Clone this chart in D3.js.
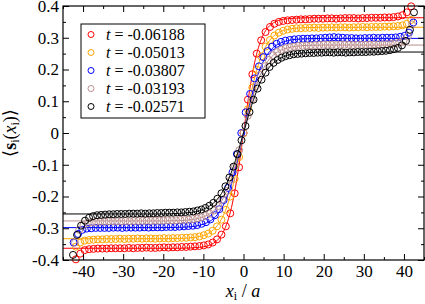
<!DOCTYPE html>
<html>
<head>
<meta charset="utf-8">
<script src="https://cdn.jsdelivr.net/npm/d3@7"></script>
<style>
  body { margin: 0; background: #fff; }
  svg text { font-family: "Liberation Serif", "Times New Roman", Tinos, "DejaVu Serif", serif; }
</style>
</head>
<body>
<script>
const width  = 425;
const height = 304;
const margin = {top: 6, right: 1, bottom: 44, left: 63};

// series labels and colours
const tLabels = ['-0.06188', '-0.05013', '-0.03807', '-0.03193', '-0.02571'];
const colors  = ['#ff0000', '#ffa500', '#0000ff', '#bc8f8f', '#000000'];

// lattice spacing of the sites for each series (x_i / a), centred on 0
const siteStep = [1.1, 1.1, 1.1, 1.05, 1.0];

// measured <s_i(x_i)>, left to right
const redY = [-.398, -.380, -.369, -.366, -.365, -.364, -.364, -.364, -.363, -.363,
  -.363, -.363, -.362, -.363, -.362, -.362, -.361, -.362, -.362, -.361,
  -.360, -.361, -.360, -.360, -.359, -.359, -.358, -.357, -.356, -.354,
  -.351, -.345, -.335, -.320, -.294, -.253, -.190, -.108, 0,
  .105, .185, .250, .292, .318, .334, .344, .350, .353, .355,
  .356, .357, .358, .358, .359, .360, .360, .360, .361, .361,
  .360, .361, .362, .362, .362, .361, .362, .362, .363, .363,
  .363, .364, .364, .365, .367, .371, .380, .399];

const orangeY = [-.358, -.345, -.339, -.337, -.336, -.335, -.335, -.334, -.334, -.334,
  -.333, -.334, -.333, -.333, -.332, -.333, -.332, -.332, -.333, -.332,
  -.331, -.332, -.331, -.331, -.330, -.330, -.329, -.328, -.326, -.322,
  -.317, -.308, -.294, -.273, -.242, -.200, -.144, -.076, 0,
  .075, .143, .199, .241, .272, .293, .307, .316, .322, .326,
  .328, .330, .330, .331, .331, .332, .331, .332, .332, .333,
  .332, .333, .333, .332, .333, .333, .334, .333, .334, .334,
  .334, .335, .335, .336, .337, .339, .344, .356];

const blueY = [-.345, -.318, -.305, -.301, -.300, -.299, -.299, -.299, -.299, -.298,
  -.298, -.299, -.298, -.298, -.298, -.298, -.297, -.298, -.297, -.297,
  -.297, -.296, -.296, -.296, -.295, -.294, -.293, -.292, -.290, -.286,
  -.281, -.272, -.259, -.240, -.211, -.173, -.124, -.066, 0,
  .065, .123, .172, .210, .239, .258, .272, .281, .287, .291,
  .293, .295, .296, .297, .297, .298, .298, .299, .300, .301,
  .302, .301, .300, .299, .299, .298, .298, .299, .299, .300,
  .299, .300, .300, .300, .301, .303, .306, .316, .348];

const rosyY = [-.345, -.305, -.290, -.284, -.281, -.280, -.279, -.279, -.278, -.278,
  -.278, -.278, -.277, -.278, -.277, -.277, -.277, -.276, -.277, -.276,
  -.276, -.276, -.275, -.275, -.275, -.274, -.274, -.273, -.271, -.269,
  -.266, -.261, -.254, -.244, -.230, -.210, -.183, -.148, -.105, -.054, 0,
  .054, .104, .148, .183, .210, .230, .245, .255, .262, .267,
  .270, .272, .274, .275, .276, .276, .277, .277, .278, .278,
  .278, .277, .278, .278, .278, .277, .278, .278, .278, .278,
  .279, .279, .279, .280, .280, .282, .285, .291, .304, .342];

const blackY = [-.384, -.321, -.292, -.276, -.267, -.262, -.259, -.258, -.257, -.256,
  -.256, -.255, -.255, -.255, -.254, -.254, -.254, -.253, -.254, -.253,
  -.253, -.252, -.252, -.251, -.251, -.251, -.250, -.250, -.249, -.248,
  -.247, -.244, -.241, -.236, -.229, -.220, -.207, -.190, -.168, -.140,
  -.106, -.067, -.023,
  .022, .066, .105, .140, .168, .190, .208, .221, .230, .237,
  .242, .245, .248, .249, .250, .251, .252, .252, .253, .253,
  .254, .254, .253, .254, .254, .253, .254, .254, .255, .255,
  .255, .256, .256, .257, .258, .259, .261, .264, .268, .276,
  .290, .325, .380];

// fitted profiles (solid lines)
const fitX = [-45, -30, -20, -16, -13, -11, -9, -8, -7, -6, -5, -4, -3, -2, -1, 0,
  1, 2, 3, 4, 5, 6, 7, 8, 9, 11, 13, 16, 20, 30, 45];
const redFit    = [-.363, -.363, -.363, -.363, -.362, -.360, -.356, -.351, -.343, -.331, -.311, -.280, -.235, -.171, -.091, 0,
  .091, .171, .235, .280, .311, .331, .343, .351, .356, .360, .362, .363, .363, .363, .363];
const orangeFit = [-.333, -.333, -.333, -.332, -.330, -.326, -.318, -.310, -.299, -.282, -.259, -.227, -.185, -.131, -.068, 0,
  .068, .131, .185, .227, .259, .282, .299, .310, .318, .326, .330, .332, .333, .333, .333];
const blueFit   = [-.298, -.298, -.298, -.297, -.295, -.291, -.282, -.275, -.264, -.248, -.227, -.198, -.160, -.113, -.059, 0,
  .059, .113, .160, .198, .227, .248, .264, .275, .282, .291, .295, .297, .298, .298, .298];
const rosyFit   = [-.277, -.277, -.277, -.276, -.273, -.268, -.259, -.251, -.240, -.225, -.204, -.177, -.142, -.100, -.052, 0,
  .052, .100, .142, .177, .204, .225, .240, .251, .259, .268, .273, .276, .277, .277, .277];
const blackFit  = [-.255, -.255, -.255, -.253, -.250, -.245, -.234, -.226, -.215, -.200, -.180, -.154, -.123, -.086, -.044, 0,
  .044, .086, .123, .154, .180, .200, .215, .226, .234, .245, .250, .253, .255, .255, .255];

const xTicks = [-40, -30, -20, -10, 0, 10, 20, 30, 40];
const yTicks = [-0.4, -0.3, -0.2, -0.1, 0, 0.1, 0.2, 0.3, 0.4];

const pointSets = [redY, orangeY, blueY, rosyY, blackY];
const fitSets   = [redFit, orangeFit, blueFit, rosyFit, blackFit];

const x = d3.scaleLinear().domain([-45, 45]).range([margin.left, width - margin.right]);
const y = d3.scaleLinear().domain([-0.4, 0.4]).range([height - margin.bottom, margin.top]);

const svg = d3.select('body').append('svg')
  .attr('width', width)
  .attr('height', height);

const line = d3.line()
  .x(d => x(d[0]))
  .y(d => y(d[1]))
  .curve(d3.curveMonotoneX);

pointSets.forEach((vals, s) => {
  const n = vals.length;
  const pts = vals.map((v, i) => [(i - (n - 1) / 2) * siteStep[s], v]);
  const fit = fitX.map((xv, i) => [xv, fitSets[s][i]]);

  svg.append('path')
    .attr('d', line(fit))
    .attr('fill', 'none')
    .attr('stroke', colors[s])
    .attr('stroke-width', 1);

  svg.append('g').selectAll('circle')
    .data(pts)
    .enter().append('circle')
    .attr('cx', d => x(d[0]))
    .attr('cy', d => y(d[1]))
    .attr('r', 3.5)
    .attr('fill', 'none')
    .attr('stroke', colors[s])
    .attr('stroke-width', 1);
});

// axes, ticks pointing inwards on all four sides
const x0 = margin.left, x1 = width - margin.right;
const y0 = margin.top,  y1 = height - margin.bottom;
const xMinor = d3.range(-45, 46, 5).filter(v => v % 10 !== 0);
const yMinor = [-0.35, -0.25, -0.15, -0.05, 0.05, 0.15, 0.25, 0.35];

const fmtY = d => d === 0 ? '0' : d3.format('.1f')(d).replace('\u2212', '-');

const drawAxis = function(axis, tx, ty, labels) {
  const g = svg.append('g').attr('transform', 'translate(' + tx + ',' + ty + ')').call(axis);
  g.attr('font-family', null);
  g.select('.domain').remove();
  g.selectAll('line').attr('stroke', '#000').attr('stroke-width', 1);
  if (labels) {
    g.selectAll('text').attr('font-size', 17).attr('fill', '#000');
  } else {
    g.selectAll('text').remove();
  }
  return g;
};

drawAxis(d3.axisBottom(x).tickValues(xTicks).tickSize(-6).tickPadding(5)
  .tickFormat(d => String(d)), 0, y1, true);
drawAxis(d3.axisBottom(x).tickValues(xMinor).tickSize(-3), 0, y1, false);
drawAxis(d3.axisTop(x).tickValues(xTicks).tickSize(-6), 0, y0, false);
drawAxis(d3.axisTop(x).tickValues(xMinor).tickSize(-3), 0, y0, false);
drawAxis(d3.axisLeft(y).tickValues(yTicks).tickSize(-6).tickPadding(4)
  .tickFormat(fmtY), x0, 0, true);
drawAxis(d3.axisLeft(y).tickValues(yMinor).tickSize(-3), x0, 0, false);
drawAxis(d3.axisRight(y).tickValues(yTicks).tickSize(-6), x1, 0, false);
drawAxis(d3.axisRight(y).tickValues(yMinor).tickSize(-3), x1, 0, false);

svg.append('rect')
  .attr('x', x0).attr('y', y0)
  .attr('width', x1 - x0).attr('height', y1 - y0)
  .attr('fill', 'none').attr('stroke', '#000').attr('stroke-width', 1.2);

// legend
const legend = svg.append('g');
legend.append('rect')
  .attr('x', 81).attr('y', 24).attr('width', 124).attr('height', 94)
  .attr('fill', '#fff').attr('stroke', '#000').attr('stroke-width', 1);

tLabels.forEach((lab, i) => {
  const ly = 34.5 + i * 18;
  legend.append('circle')
    .attr('cx', 91).attr('cy', ly).attr('r', 3)
    .attr('fill', 'none').attr('stroke', colors[i]).attr('stroke-width', 1);
  const t = legend.append('text')
    .attr('x', 106).attr('y', ly + 5.5)
    .attr('font-size', 16);
  t.append('tspan').attr('font-style', 'italic').text('t');
  t.append('tspan').text(' = ' + lab);
});

// axis titles
const xt = svg.append('text')
  .attr('x', 243).attr('y', 297)
  .attr('text-anchor', 'middle')
  .attr('font-size', 18);
xt.append('tspan').attr('font-style', 'italic').text('x');
xt.append('tspan').attr('font-size', 12).attr('dy', 3).text('i');
xt.append('tspan').attr('dy', -3).text(' / ');
xt.append('tspan').attr('font-style', 'italic').text('a');

const yt = svg.append('text')
  .attr('transform', 'translate(16,133) rotate(-90)')
  .attr('text-anchor', 'middle')
  .attr('font-size', 18);
yt.append('tspan').text('\u27E8');
yt.append('tspan').attr('font-weight', 'bold').text('s');
yt.append('tspan').attr('font-size', 12).attr('dy', 3).text('i');
yt.append('tspan').attr('dy', -3).text('(');
yt.append('tspan').attr('font-style', 'italic').text('x');
yt.append('tspan').attr('font-size', 12).attr('dy', 3).text('i');
yt.append('tspan').attr('dy', -3).text(')');
yt.append('tspan').text('\u27E9');
</script>
</body>
</html>
